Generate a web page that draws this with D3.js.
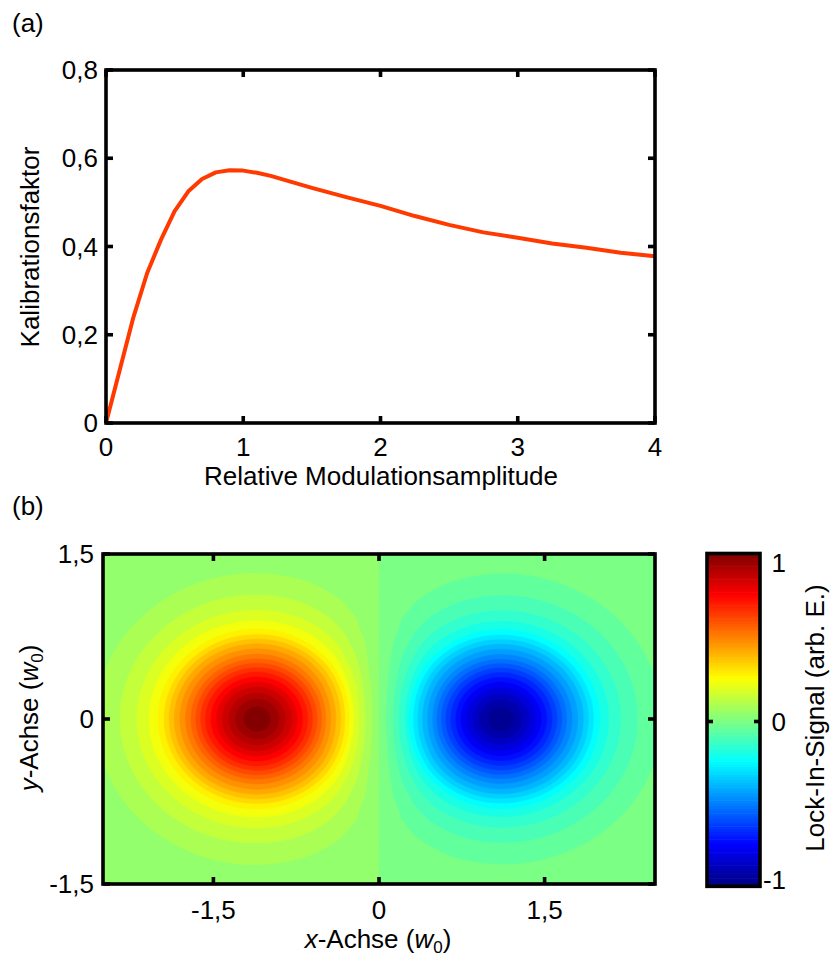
<!DOCTYPE html>
<html>
<head>
<meta charset="utf-8">
<script src="https://cdn.jsdelivr.net/npm/d3@7/dist/d3.min.js"></script>
<style>
  html, body { margin: 0; padding: 0; background: #fff; }
  svg { display: block; font-family: "Liberation Sans", Arial, sans-serif; }
</style>
</head>
<body>
<svg id="fig" width="830" height="958"></svg>
<script>
// ---- (a) calibration factor vs. relative modulation amplitude ----
const ampX = [0, 0.1, 0.2, 0.3, 0.4, 0.5, 0.6, 0.7, 0.8, 0.9, 1.0, 1.1, 1.2, 1.3, 1.4, 1.5,
              1.75, 2.0, 2.25, 2.5, 2.75, 3.0, 3.25, 3.5, 3.75, 4.0];
const kalY = [0, 0.12, 0.24, 0.34, 0.415, 0.48, 0.525, 0.553, 0.568, 0.573, 0.572, 0.567, 0.560,
              0.551, 0.542, 0.533, 0.512, 0.492, 0.469, 0.449, 0.432, 0.420, 0.407, 0.397, 0.386, 0.378];
const ticksA_x = [0, 1, 2, 3, 4];
const ticksA_y = [0, 0.2, 0.4, 0.6, 0.8];

// ---- (b) lock-in signal map: two lobes of opposite sign ----
const lobeCenterX = [-1.1, 1.1];
const lobeSign = [1, -1];
const lobeAspect = 1.1;            // horizontal stretch of each lobe
const profileRho = [0, 0.14, 0.285, 0.345, 0.43, 0.565, 0.67, 0.80, 0.91, 1.03, 1.18, 1.33, 1.5, 1.7, 2.0, 2.5, 3.0, 4.0];
const profileVal = [1.06, 0.99, 0.86, 0.795, 0.70, 0.53, 0.42, 0.265, 0.19, 0.133, 0.085, 0.05, 0.025, 0.012, 0.004, 0.001, 0.0003, 0.0001];
const ticksB_x = [-1.5, 0, 1.5];
const ticksB_y = [-1.5, 0, 1.5];
const ticksCb = [-1, 0, 1];
const colorLimits = [-1.04, 1.06];
const levelStep = 0.05;

const fmt = v => (v === 0 ? "0" : String(v).replace(".", ","));
const svg = d3.select("#fig");
const FS = 26;
const SUB = 17;
const axisColor = "#000";
const frameW = 3.6;

// ================= panel (a) =================
const xA = d3.scaleLinear().domain([0, 4]).range([106, 655]);
const yA = d3.scaleLinear().domain([0, 0.8]).range([423, 70]);
const gA = svg.append("g");

gA.append("path")
  .datum(ampX.map((x, i) => [x, kalY[i]]))
  .attr("fill", "none")
  .attr("stroke", "#ff3a00")
  .attr("stroke-width", 4)
  .attr("stroke-linejoin", "round")
  .attr("d", d3.line().x(d => xA(d[0])).y(d => yA(d[1])));

function frame(g, x0, x1, y0, y1) {
  g.append("rect")
    .attr("x", x0).attr("y", y0).attr("width", x1 - x0).attr("height", y1 - y0)
    .attr("fill", "none").attr("stroke", axisColor).attr("stroke-width", frameW);
}
const tickLen = 7;
// inward ticks on all four sides
ticksA_x.forEach(t => {
  const x = xA(t);
  gA.append("line").attr("x1", x).attr("x2", x).attr("y1", 423).attr("y2", 423 - tickLen)
    .attr("stroke", axisColor).attr("stroke-width", frameW);
  gA.append("line").attr("x1", x).attr("x2", x).attr("y1", 70).attr("y2", 70 + tickLen)
    .attr("stroke", axisColor).attr("stroke-width", frameW);
  gA.append("text").attr("x", x).attr("y", 456).attr("text-anchor", "middle")
    .attr("font-size", FS).text(fmt(t));
});
ticksA_y.forEach(t => {
  const y = yA(t);
  gA.append("line").attr("x1", 106).attr("x2", 106 + tickLen).attr("y1", y).attr("y2", y)
    .attr("stroke", axisColor).attr("stroke-width", frameW);
  gA.append("line").attr("x1", 655).attr("x2", 655 - tickLen).attr("y1", y).attr("y2", y)
    .attr("stroke", axisColor).attr("stroke-width", frameW);
  gA.append("text").attr("x", 98).attr("y", y + 9).attr("text-anchor", "end")
    .attr("font-size", FS).text(fmt(t));
});
frame(gA, 106, 655, 70, 423);
gA.append("text").attr("x", 381).attr("y", 485).attr("text-anchor", "middle")
  .attr("font-size", FS).text("Relative Modulationsamplitude");
gA.append("text").attr("transform", "translate(39,247) rotate(-90)")
  .attr("text-anchor", "middle").attr("font-size", FS).text("Kalibrationsfaktor");
svg.append("text").attr("x", 12).attr("y", 32).attr("font-size", FS).text("(a)");
svg.append("text").attr("x", 12).attr("y", 515).attr("font-size", FS).text("(b)");

// ================= panel (b) =================
const bx0 = 103, bx1 = 655, by0 = 554, by1 = 884;
const xB = d3.scaleLinear().domain([-2.5, 2.5]).range([bx0, bx1]);
const yB = d3.scaleLinear().domain([-1.5, 1.5]).range([by1, by0]);

const jetStops = [0, 0.125, 0.375, 0.625, 0.875, 1];
const jetColors = ["#00007f", "#0000ff", "#00ffff", "#ffff00", "#ff0000", "#7f0000"];
const color = d3.scaleLinear()
  .domain(jetStops.map(t => colorLimits[0] + t * (colorLimits[1] - colorLimits[0])))
  .range(jetColors).clamp(true);

const profile = d3.scaleLinear().domain(profileRho).range(profileVal).clamp(true);

// sample the field on a grid (cell centres)
const nx = 276, ny = 166;
const dxg = 5 / nx, dyg = 3 / ny;
const field = new Float64Array(nx * ny);
for (let j = 0; j < ny; j++) {
  const y = 1.5 - (j + 0.5) * dyg;
  for (let i = 0; i < nx; i++) {
    const x = -2.5 + (i + 0.5) * dxg;
    let v = 0;
    lobeCenterX.forEach((cx, k) => {
      const rho = Math.hypot((x - cx) / lobeAspect, y);
      v += lobeSign[k] * profile(rho);
    });
    field[j * nx + i] = v;
  }
}
const thresholds = d3.range(-22, 23).map(k => k * levelStep);
const contours = d3.contours().size([nx, ny]).thresholds(thresholds)(field);
const proj = d3.geoTransform({
  point(px, py) { this.stream.point(xB(-2.5 + px * dxg), yB(1.5 - py * dyg)); }
});
const pathGen = d3.geoPath(proj);

const defs = svg.append("defs");
defs.append("clipPath").attr("id", "clipB").append("rect")
  .attr("x", bx0).attr("y", by0).attr("width", bx1 - bx0).attr("height", by1 - by0);
const gB = svg.append("g");
const gMap = gB.append("g").attr("clip-path", "url(#clipB)");
gMap.append("rect").attr("x", bx0).attr("y", by0).attr("width", bx1 - bx0).attr("height", by1 - by0)
  .attr("fill", color(thresholds[0]));
gMap.selectAll("path.band").data(contours).enter().append("path")
  .attr("class", "band")
  .attr("d", pathGen)
  .attr("fill", d => color(d.value + levelStep))
  .attr("stroke", d => color(d.value + levelStep))
  .attr("stroke-width", 0.4);

ticksB_x.forEach(t => {
  const x = xB(t);
  gB.append("line").attr("x1", x).attr("x2", x).attr("y1", by1).attr("y2", by1 - tickLen)
    .attr("stroke", axisColor).attr("stroke-width", frameW);
  gB.append("line").attr("x1", x).attr("x2", x).attr("y1", by0).attr("y2", by0 + tickLen)
    .attr("stroke", axisColor).attr("stroke-width", frameW);
  gB.append("text").attr("x", x).attr("y", 919).attr("text-anchor", "middle")
    .attr("font-size", FS).text(fmt(t));
});
ticksB_y.forEach(t => {
  const y = yB(t);
  gB.append("line").attr("x1", bx0).attr("x2", bx0 + tickLen).attr("y1", y).attr("y2", y)
    .attr("stroke", axisColor).attr("stroke-width", frameW);
  gB.append("line").attr("x1", bx1).attr("x2", bx1 - tickLen).attr("y1", y).attr("y2", y)
    .attr("stroke", axisColor).attr("stroke-width", frameW);
  gB.append("text").attr("x", 94).attr("y", y + 9).attr("text-anchor", "end")
    .attr("font-size", FS).text(fmt(t));
});
frame(gB, bx0, bx1, by0, by1);

const xt = gB.append("text").attr("x", 378).attr("y", 948).attr("text-anchor", "middle").attr("font-size", FS);
xt.append("tspan").attr("font-style", "italic").text("x");
xt.append("tspan").text("-Achse (");
xt.append("tspan").attr("font-style", "italic").text("w");
xt.append("tspan").attr("font-size", SUB).attr("dy", 5).text("0");
xt.append("tspan").attr("dy", -5).text(")");

const yt = gB.append("text").attr("transform", "translate(38,718) rotate(-90)")
  .attr("text-anchor", "middle").attr("font-size", FS);
yt.append("tspan").attr("font-style", "italic").text("y");
yt.append("tspan").text("-Achse (");
yt.append("tspan").attr("font-style", "italic").text("w");
yt.append("tspan").attr("font-size", SUB).attr("dy", 5).text("0");
yt.append("tspan").attr("dy", -5).text(")");

// ---- colour bar ----
const cbx0 = 707, cbx1 = 760;
const cbY = d3.scaleLinear().domain([-1, 1]).range([880, 563]);
const cbTop = cbY(colorLimits[1]), cbBot = cbY(colorLimits[0]);
const gC = svg.append("g");
const nSteps = 128;
const stepVals = d3.range(nSteps).map(k => colorLimits[0] + (k + 0.5) * (colorLimits[1] - colorLimits[0]) / nSteps);
const stepH = (cbBot - cbTop) / nSteps;
gC.selectAll("rect.cb").data(stepVals).enter().append("rect")
  .attr("class", "cb")
  .attr("x", cbx0).attr("width", cbx1 - cbx0)
  .attr("y", d => cbY(d) - stepH / 2 - 0.3)
  .attr("height", stepH + 0.6)
  .attr("fill", d => color(d));
ticksCb.forEach(t => {
  const y = cbY(t);
  if (t === 0) {
    gC.append("line").attr("x1", cbx0).attr("x2", cbx0 + 6).attr("y1", y).attr("y2", y)
      .attr("stroke", axisColor).attr("stroke-width", frameW);
    gC.append("line").attr("x1", cbx1).attr("x2", cbx1 - 6).attr("y1", y).attr("y2", y)
      .attr("stroke", axisColor).attr("stroke-width", frameW);
  }
  gC.append("text").attr("x", 786).attr("y", y + 9).attr("text-anchor", "end")
    .attr("font-size", FS).text(fmt(t));
});
gC.append("rect").attr("x", cbx0).attr("y", cbTop).attr("width", cbx1 - cbx0).attr("height", cbBot - cbTop)
  .attr("fill", "none").attr("stroke", axisColor).attr("stroke-width", frameW);
gC.append("text").attr("transform", "translate(824,718) rotate(-90)")
  .attr("text-anchor", "middle").attr("font-size", FS).text("Lock-In-Signal (arb. E.)");
</script>
</body>
</html>
